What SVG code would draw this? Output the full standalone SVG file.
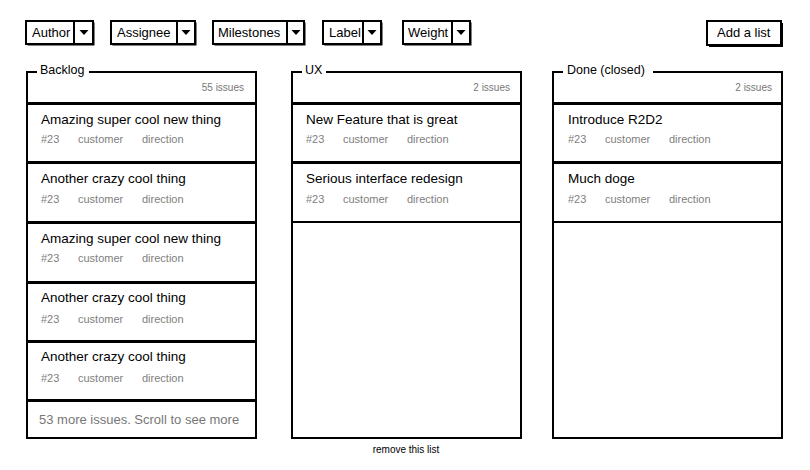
<svg xmlns="http://www.w3.org/2000/svg" width="810" height="470" viewBox="0 0 810 470">
<style>
  text { font-family: "Liberation Sans", Arial, sans-serif; }
  .box { fill: #fff; stroke: #000; stroke-width: 2; }
  .shadow { fill: #000; }
  .line { stroke: #000; stroke-width: 2; fill: none; }
  .ctl { font-size: 13px; fill: #000; }
  .ptitle { font-size: 12.5px; fill: #000; }
  .count { font-size: 10px; fill: #777; text-anchor: end; }
  .ctitle { font-size: 13.5px; fill: #000; }
  .meta { font-size: 11px; fill: #808080; }
  .more { font-size: 13px; fill: #777; }
  .small { font-size: 10px; fill: #000; text-anchor: middle; }
  .mask { fill: #fff; }
</style>
<defs>
  <polygon id="arrow" points="-4.5,0 4.5,0 0,5" fill="#000"/>
</defs>
<rect width="810" height="470" fill="#fff"/>

<g id="filter-author">
  <rect class="shadow" x="27.5" y="22.5" width="67" height="23"/>
  <rect class="box" x="26" y="21" width="67" height="23"/>
  <line class="line" x1="74" y1="21" x2="74" y2="44"/>
  <text class="ctl" x="32" y="37">Author</text>
  <use href="#arrow" x="84" y="30"/>
</g>
<g id="filter-assignee">
  <rect class="shadow" x="112.5" y="22.5" width="84" height="23"/>
  <rect class="box" x="111" y="21" width="84" height="23"/>
  <line class="line" x1="177" y1="21" x2="177" y2="44"/>
  <text class="ctl" x="117" y="37">Assignee</text>
  <use href="#arrow" x="186" y="30"/>
</g>
<g id="filter-milestones">
  <rect class="shadow" x="214.5" y="22.5" width="91" height="23"/>
  <rect class="box" x="213" y="21" width="91" height="23"/>
  <line class="line" x1="287" y1="21" x2="287" y2="44"/>
  <text class="ctl" x="218" y="37">Milestones</text>
  <use href="#arrow" x="296" y="30"/>
</g>
<g id="filter-label">
  <rect class="shadow" x="324.5" y="22.5" width="58" height="23"/>
  <rect class="box" x="323" y="21" width="58" height="23"/>
  <line class="line" x1="363" y1="21" x2="363" y2="44"/>
  <text class="ctl" x="329" y="37">Label</text>
  <use href="#arrow" x="372" y="30"/>
</g>
<g id="filter-weight">
  <rect class="shadow" x="404.5" y="22.5" width="67" height="23"/>
  <rect class="box" x="403" y="21" width="67" height="23"/>
  <line class="line" x1="452" y1="21" x2="452" y2="44"/>
  <text class="ctl" x="408" y="37">Weight</text>
  <use href="#arrow" x="461" y="30"/>
</g>
<g id="add-list">
  <rect class="shadow" x="709" y="23" width="74" height="24"/>
  <rect class="box" x="707" y="21" width="74" height="24"/>
  <text class="ctl" x="717" y="37">Add a list</text>
</g>

<!-- Backlog -->
<g id="list-backlog">
  <rect class="box" x="27" y="72" width="229" height="366"/>
  <rect class="mask" x="37" y="64" width="52" height="14"/>
  <text class="ptitle" x="40" y="74">Backlog</text>
  <line class="line" x1="27" y1="103" x2="256" y2="103"/>
  <text class="count" x="244" y="91">55 issues</text>
</g>
<g id="backlog-card-1">
  <rect class="box" x="27" y="104" width="229" height="58"/>
  <text class="ctitle" x="41" y="124">Amazing super cool new thing</text>
  <text class="meta" x="41" y="143">#23</text><text class="meta" x="78" y="143">customer</text><text class="meta" x="142" y="143">direction</text>
</g>
<g id="backlog-card-2">
  <rect class="box" x="27" y="163" width="229" height="59"/>
  <text class="ctitle" x="41" y="183">Another crazy cool thing</text>
  <text class="meta" x="41" y="203">#23</text><text class="meta" x="78" y="203">customer</text><text class="meta" x="142" y="203">direction</text>
</g>
<g id="backlog-card-3">
  <rect class="box" x="27" y="223" width="229" height="59"/>
  <text class="ctitle" x="41" y="243">Amazing super cool new thing</text>
  <text class="meta" x="41" y="262">#23</text><text class="meta" x="78" y="262">customer</text><text class="meta" x="142" y="262">direction</text>
</g>
<g id="backlog-card-4">
  <rect class="box" x="27" y="283" width="229" height="58"/>
  <text class="ctitle" x="41" y="302">Another crazy cool thing</text>
  <text class="meta" x="41" y="323">#23</text><text class="meta" x="78" y="323">customer</text><text class="meta" x="142" y="323">direction</text>
</g>
<g id="backlog-card-5">
  <rect class="box" x="27" y="342" width="229" height="58"/>
  <text class="ctitle" x="41" y="361">Another crazy cool thing</text>
  <text class="meta" x="41" y="382">#23</text><text class="meta" x="78" y="382">customer</text><text class="meta" x="142" y="382">direction</text>
</g>
<g id="backlog-more">
  <rect class="box" x="27" y="401" width="229" height="37"/>
  <text class="more" x="39" y="424">53 more issues. Scroll to see more</text>
</g>

<!-- UX -->
<g id="list-ux">
  <rect class="box" x="292" y="72" width="229" height="366"/>
  <rect class="mask" x="302" y="64" width="24" height="14"/>
  <text class="ptitle" x="305" y="74">UX</text>
  <line class="line" x1="292" y1="103" x2="521" y2="103"/>
  <text class="count" x="510" y="91">2 issues</text>
</g>
<g id="ux-card-1">
  <rect class="box" x="292" y="104" width="229" height="58"/>
  <text class="ctitle" x="306" y="124">New Feature that is great</text>
  <text class="meta" x="306" y="143">#23</text><text class="meta" x="343" y="143">customer</text><text class="meta" x="407" y="143">direction</text>
</g>
<g id="ux-card-2">
  <rect class="box" x="292" y="163" width="229" height="59"/>
  <text class="ctitle" x="306" y="183">Serious interface redesign</text>
  <text class="meta" x="306" y="203">#23</text><text class="meta" x="343" y="203">customer</text><text class="meta" x="407" y="203">direction</text>
</g>
<g id="remove-list">
  <text class="small" x="406" y="453">remove this list</text>
</g>

<!-- Done -->
<g id="list-done">
  <rect class="box" x="553" y="72" width="229" height="366"/>
  <rect class="mask" x="563" y="64" width="90" height="14"/>
  <text class="ptitle" x="567" y="74">Done (closed)</text>
  <line class="line" x1="553" y1="103" x2="782" y2="103"/>
  <text class="count" x="772" y="91">2 issues</text>
</g>
<g id="done-card-1">
  <rect class="box" x="553" y="104" width="229" height="58"/>
  <text class="ctitle" x="568" y="124">Introduce R2D2</text>
  <text class="meta" x="568" y="143">#23</text><text class="meta" x="605" y="143">customer</text><text class="meta" x="669" y="143">direction</text>
</g>
<g id="done-card-2">
  <rect class="box" x="553" y="163" width="229" height="59"/>
  <text class="ctitle" x="568" y="183">Much doge</text>
  <text class="meta" x="568" y="203">#23</text><text class="meta" x="605" y="203">customer</text><text class="meta" x="669" y="203">direction</text>
</g>
</svg>
